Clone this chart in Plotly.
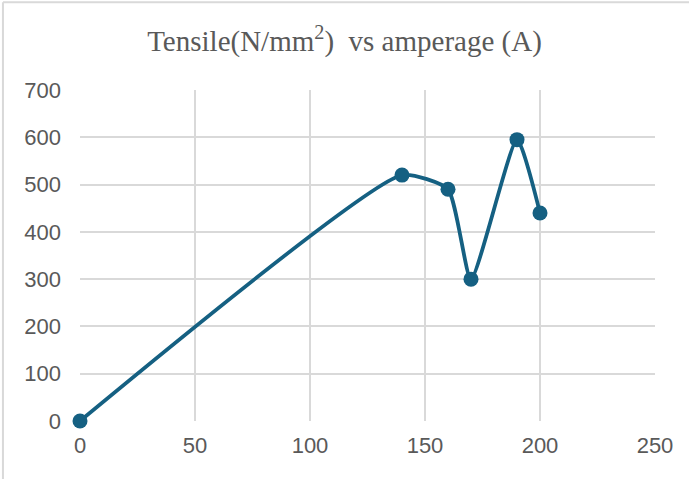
import plotly.graph_objects as go

amperage = [0, 140, 160, 170, 190, 200]
tensile = [0, 520, 490, 300, 595, 440]

x_ticks = [0, 50, 100, 150, 200, 250]
y_ticks = [0, 100, 200, 300, 400, 500, 600, 700]

title_text = "Tensile(N/mm<sup>2</sup>)  vs amperage (A)"

line_color = "#156082"
grid_color = "#D9D9D9"
text_color = "#595959"

fig = go.Figure()
fig.add_trace(go.Scatter(
    x=amperage, y=tensile, mode="lines+markers",
    line=dict(color=line_color, width=3.8, shape="spline", smoothing=0.52),
    marker=dict(color=line_color, size=15),
    showlegend=False,
))

fig.update_layout(
    width=689, height=479,
    margin=dict(l=80, r=34, t=90, b=58),
    paper_bgcolor="white", plot_bgcolor="white",
    title=dict(text=title_text, x=0.5, xanchor="center", y=0.915, yanchor="middle",
               font=dict(family="Liberation Serif", size=29, color=text_color)),
    xaxis=dict(range=[0, 250], tickvals=x_ticks, showgrid=True, gridcolor=grid_color,
               gridwidth=1.5, zeroline=False, showline=False, ticks="",
               tickfont=dict(family="Liberation Sans", size=22, color=text_color),
               ticklabelstandoff=9),
    yaxis=dict(range=[0, 700], tickvals=y_ticks, showgrid=True, gridcolor=grid_color,
               gridwidth=1.5, zeroline=False, showline=False, ticks="",
               tickfont=dict(family="Liberation Sans", size=22, color=text_color),
               ticklabelstandoff=18),
    shapes=[
        dict(type="line", xref="paper", yref="paper", x0=-0.134, x1=1.2, y0=1.265, y1=1.265,
             line=dict(color=grid_color, width=2)),
        dict(type="line", xref="paper", yref="paper", x0=-0.134, x1=-0.134, y0=1.265, y1=-0.3,
             line=dict(color=grid_color, width=2)),
    ],
)
fig.update_traces(cliponaxis=False)
fig.write_html("out.html")
